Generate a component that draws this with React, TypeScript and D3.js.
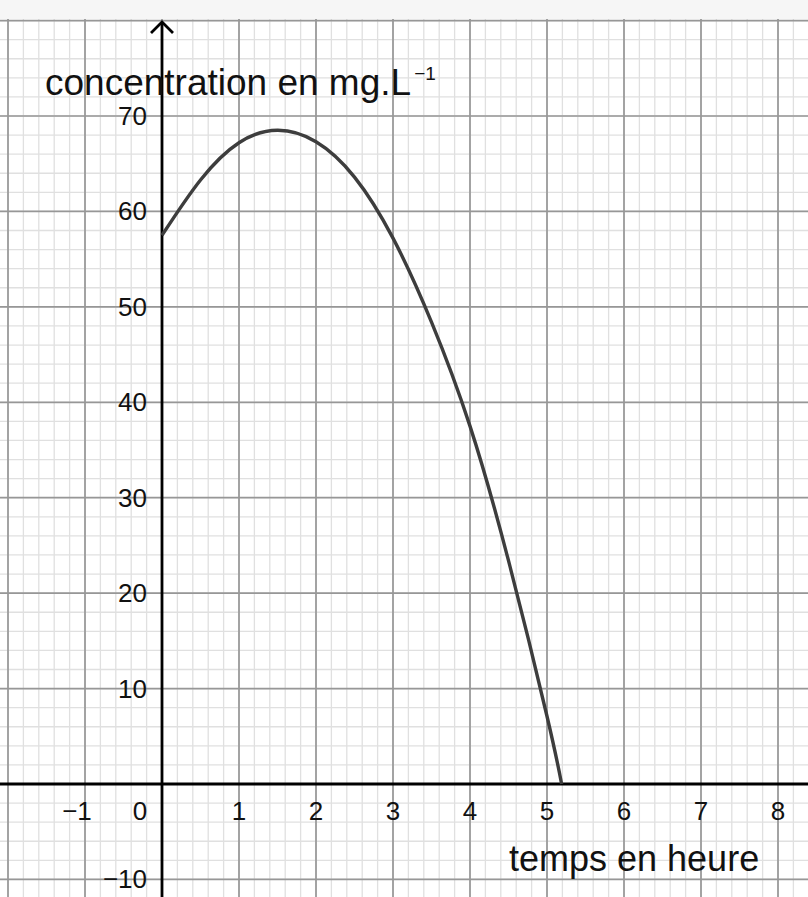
import { useEffect, useRef } from "react"
import * as d3 from "d3"

// values
const times = [0, 0.5, 1, 1.5, 2, 2.5, 3, 3.5, 4, 4.5, 5, 5.19]
const concentrations = [57.5, 63.3, 67.2, 68.5, 67.3, 63.6, 57.2, 48.4, 37.5, 23.4, 7.1, 0]

const xTicks = [-1, 0, 1, 2, 3, 4, 5, 6, 7, 8]
const yTicks = [-10, 10, 20, 30, 40, 50, 60, 70]

const xLabel = "temps en heure"
const yLabel = "concentration en mg.L"

export default function App() {
  const svgRef = useRef<SVGSVGElement>(null)

  useEffect(() => {
    if (!svgRef.current) return
    const width = 808
    const height = 897
    const gridTop = 19

    d3.select(svgRef.current).selectAll("*").remove()
    const svg = d3.select(svgRef.current)

    // x = 0 at 162px, 77px per hour; y = 0 at 784px
    const x = d3.scaleLinear().domain([0, 8]).range([162, 778])
    const y = d3.scaleLinear().domain([0, 70]).range([784, 116])

    const [xMin, xMax] = [x.invert(0), x.invert(width)]
    const [yMin, yMax] = [y.invert(height), y.invert(gridTop)]

    svg.append("rect").attr("width", width).attr("height", height).attr("fill", "#fff")
    svg.append("rect").attr("width", width).attr("height", gridTop).attr("fill", "#f6f6f6")

    // minor grid (0.2 h, 2 mg/L)
    const minorX = d3.range(Math.ceil(xMin * 5), Math.floor(xMax * 5) + 1).map((d) => d / 5)
    const minorY = d3.range(Math.ceil(yMin / 2), Math.floor(yMax / 2) + 1).map((d) => d * 2)
    const grid = svg.append("g")
    grid
      .selectAll(".vminor")
      .data(minorX)
      .enter()
      .append("line")
      .attr("x1", (d) => x(d))
      .attr("x2", (d) => x(d))
      .attr("y1", gridTop)
      .attr("y2", height)
      .attr("stroke", "#e0e0e0")
      .attr("stroke-width", 1.3)
    grid
      .selectAll(".hminor")
      .data(minorY)
      .enter()
      .append("line")
      .attr("x1", 0)
      .attr("x2", width)
      .attr("y1", (d) => y(d))
      .attr("y2", (d) => y(d))
      .attr("stroke", "#e0e0e0")
      .attr("stroke-width", 1.3)

    // major grid
    const majorX = d3.range(Math.ceil(xMin), Math.floor(xMax) + 1)
    const majorY = d3.range(Math.ceil(yMin / 10), Math.floor(yMax / 10) + 1).map((d) => d * 10)
    grid
      .selectAll(".vmajor")
      .data(majorX)
      .enter()
      .append("line")
      .attr("x1", (d) => x(d))
      .attr("x2", (d) => x(d))
      .attr("y1", gridTop)
      .attr("y2", height)
      .attr("stroke", "#979797")
      .attr("stroke-width", 1.7)
    grid
      .selectAll(".hmajor")
      .data(majorY)
      .enter()
      .append("line")
      .attr("x1", 0)
      .attr("x2", width)
      .attr("y1", (d) => y(d))
      .attr("y2", (d) => y(d))
      .attr("stroke", "#979797")
      .attr("stroke-width", 1.7)

    // axes
    svg.append("line").attr("x1", 0).attr("x2", width).attr("y1", y(0)).attr("y2", y(0)).attr("stroke", "#000").attr("stroke-width", 2.8)
    svg.append("line").attr("x1", x(0)).attr("x2", x(0)).attr("y1", 22).attr("y2", height).attr("stroke", "#000").attr("stroke-width", 2.8)
    svg
      .append("path")
      .attr("d", `M${x(0) - 11},33 L${x(0)},22 L${x(0) + 11},33`)
      .attr("fill", "none")
      .attr("stroke", "#000")
      .attr("stroke-width", 2.8)

    const font = "'Liberation Sans', Arial, sans-serif"

    // tick labels
    svg
      .append("g")
      .selectAll("text")
      .data(xTicks)
      .enter()
      .append("text")
      .attr("x", (d) => (d === 0 ? x(0) - 22 : x(d) - (d < 0 ? 8 : 0)))
      .attr("y", 820)
      .attr("text-anchor", "middle")
      .style("font-family", font)
      .style("font-size", "26px")
      .style("fill", "#111")
      .text((d) => (d < 0 ? `\u2212${-d}` : `${d}`))

    svg
      .append("g")
      .selectAll("text")
      .data(yTicks)
      .enter()
      .append("text")
      .attr("x", 147)
      .attr("y", (d) => y(d) + 9)
      .attr("text-anchor", "end")
      .style("font-family", font)
      .style("font-size", "26px")
      .style("fill", "#111")
      .text((d) => (d < 0 ? `\u2212${-d}` : `${d}`))

    // curve
    const line = d3
      .line<number>()
      .x((d) => x(d))
      .y((_, i) => y(concentrations[i]))
      .curve(d3.curveNatural)
    svg
      .append("path")
      .attr("d", line(times) as string)
      .attr("fill", "none")
      .attr("stroke", "#3d3d3d")
      .attr("stroke-width", 3.4)

    // axis titles
    const yt = svg
      .append("text")
      .attr("x", 45)
      .attr("y", 95)
      .style("font-family", font)
      .style("font-size", "37px")
      .style("fill", "#111")
    yt.append("tspan").text(yLabel)
    yt.append("tspan").attr("dy", -15).attr("dx", 3).style("font-size", "19px").text("\u22121")

    svg
      .append("text")
      .attr("x", 509)
      .attr("y", 871)
      .style("font-family", font)
      .style("font-size", "36px")
      .style("fill", "#111")
      .text(xLabel)
  }, [])

  return (
    <svg
      ref={svgRef}
      width={808}
      height={897}
      style={{ position: "absolute", left: 0, top: 0, display: "block" }}
    ></svg>
  )
}
